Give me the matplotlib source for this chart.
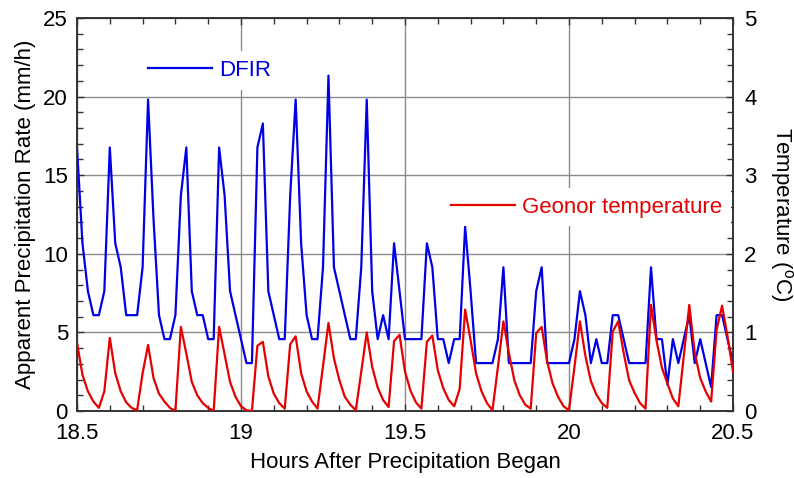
import numpy as np
import matplotlib
matplotlib.use("Agg")
import matplotlib.pyplot as plt
from matplotlib.ticker import MultipleLocator
from matplotlib.lines import Line2D

plt.rcParams['font.family'] = ['Liberation Sans', 'DejaVu Sans']
plt.rcParams['mathtext.fontset'] = 'custom'
plt.rcParams['mathtext.rm'] = 'Liberation Sans'
plt.rcParams['mathtext.it'] = 'Liberation Sans'

# one sample per minute from 18.5 h to 20.5 h
start_hour = 18.5
minutes = np.arange(121)
hours = start_hour + minutes / 60.0

# DFIR apparent precipitation rate (mm/h), counts of 1.524 mm/h steps
dfir_steps = [11, 7, 5, 4, 4, 5, 11, 7, 6, 4, 4, 4, 6, 13, 8, 4, 3, 3, 4, 9,
              11, 5, 4, 4, 3, 3, 11, 9, 5, 4, 3, 2, 2, 11, 12, 5, 4, 3, 3, 9,
              13, 7, 4, 3, 3, 6, 14, 6, 5, 4, 3, 3, 6, 13, 5, 3, 4, 3, 7, 5,
              3, 3, 3, 3, 7, 6, 3, 3, 2, 3, 3, 7.7, 5, 2, 2, 2, 2, 3, 6, 2,
              2, 2, 2, 2, 5, 6, 2, 2, 2, 2, 2, 3, 5, 4, 2, 3, 2, 2, 4, 4,
              3, 2, 2, 2, 2, 6, 3, 3, 1.1, 3, 2, 3, 4, 2, 3, 2, 1, 4, 4, 3, 2]
dfir = np.array(dfir_steps) * 1.524

# Geonor temperature (deg C)
geonor_temp = [0.87, 0.46, 0.25, 0.12, 0.04, 0.25, 0.93, 0.48, 0.25, 0.11,
               0.04, 0.01, 0.48, 0.84, 0.42, 0.22, 0.12, 0.04, 0.00, 1.07,
               0.73, 0.37, 0.20, 0.10, 0.04, 0.00, 1.07, 0.72, 0.37, 0.18,
               0.06, 0.01, 0.00, 0.83, 0.88, 0.44, 0.22, 0.10, 0.03, 0.85,
               0.95, 0.48, 0.25, 0.12, 0.03, 0.57, 1.12, 0.67, 0.39, 0.18,
               0.08, 0.01, 0.50, 1.00, 0.56, 0.30, 0.14, 0.05, 0.89, 0.97,
               0.50, 0.26, 0.11, 0.03, 0.88, 0.96, 0.52, 0.29, 0.14, 0.06,
               0.28, 1.29, 0.90, 0.48, 0.25, 0.10, 0.01, 0.56, 1.14, 0.74,
               0.39, 0.20, 0.08, 0.03, 0.99, 1.07, 0.63, 0.35, 0.18, 0.06,
               0.01, 0.56, 1.14, 0.70, 0.38, 0.21, 0.10, 0.04, 1.01, 1.14,
               0.74, 0.39, 0.23, 0.10, 0.03, 1.35, 0.90, 0.55, 0.35, 0.16,
               0.06, 0.70, 1.35, 0.74, 0.42, 0.25, 0.12, 1.03, 1.34, 0.95,
               0.50]

x_ticks = [18.5, 19, 19.5, 20, 20.5]
x_ticklabels = ['18.5', '19', '19.5', '20', '20.5']

BLUE = '#0000e6'
RED = '#e60000'
FS = 16

fig = plt.figure(figsize=(7.94, 4.78), dpi=100)
ax = fig.add_axes([77/794, 1 - 411/478, 656/794, 393/478])
ax2 = ax.twinx()

ax.plot(hours, dfir, color=BLUE, lw=1.6, zorder=3)
ax2.plot(hours, geonor_temp, color=RED, lw=1.6, zorder=3)

ax.set_xlim(18.5, 20.5)
ax.set_ylim(0, 25)
ax2.set_ylim(0, 5)

ax.set_xticks(x_ticks)
ax.set_xticklabels(x_ticklabels)
ax.xaxis.set_minor_locator(MultipleLocator(0.1))
ax.yaxis.set_major_locator(MultipleLocator(5))
ax.yaxis.set_minor_locator(MultipleLocator(1))
ax2.yaxis.set_major_locator(MultipleLocator(1))
ax2.yaxis.set_minor_locator(MultipleLocator(0.2))

ax.grid(True, which='major', color='#8c8c8c', lw=1.0)
ax.set_axisbelow(True)

ax.tick_params(axis='x', which='both', direction='in', top=True, bottom=True,
               labelsize=FS, pad=8.5, colors='#333333', labelcolor='black')
ax.tick_params(axis='y', which='both', direction='in', left=True, right=False,
               labelsize=FS, pad=6.5, colors='#333333', labelcolor='black')
ax2.tick_params(axis='y', which='both', direction='in', right=True,
                labelsize=FS, pad=8, colors='#333333', labelcolor='black')
for a in (ax, ax2):
    a.tick_params(which='major', length=5, width=1)
    a.tick_params(which='minor', length=4.5, width=1)
    for s in a.spines.values():
        s.set_color('#333333')
        s.set_linewidth(1.2)

ax.set_xlabel('Hours After Precipitation Began', fontsize=FS, labelpad=6)
ax.set_ylabel('Apparent Precipitation Rate (mm/h)', fontsize=FS, labelpad=5)
ax2.set_ylabel('Temperature ($^{o}$C)', fontsize=FS, rotation=-90, labelpad=28)

h1 = Line2D([], [], color=BLUE, lw=1.6)
h2 = Line2D([], [], color=RED, lw=1.6)
leg1 = ax2.legend([h1], ['DFIR'], loc='center left',
                  bbox_to_anchor=(0.095, 0.866), fontsize=FS, frameon=True,
                  handlelength=2.85, handletextpad=0.33, borderaxespad=0,
                  fancybox=False)
leg1.get_frame().set_facecolor('white')
leg1.get_frame().set_edgecolor('none')
leg1.get_frame().set_alpha(1)
for t in leg1.get_texts():
    t.set_color(BLUE)
ax2.add_artist(leg1)

leg2 = ax2.legend([h2], ['Geonor temperature'], loc='center left',
                  bbox_to_anchor=(0.557, 0.519), fontsize=FS, frameon=True,
                  handlelength=2.85, handletextpad=0.33, borderaxespad=0,
                  fancybox=False)
leg2.get_frame().set_facecolor('white')
leg2.get_frame().set_edgecolor('none')
leg2.get_frame().set_alpha(1)
for t in leg2.get_texts():
    t.set_color(RED)

fig.savefig('out.png', dpi=100, facecolor='white')
